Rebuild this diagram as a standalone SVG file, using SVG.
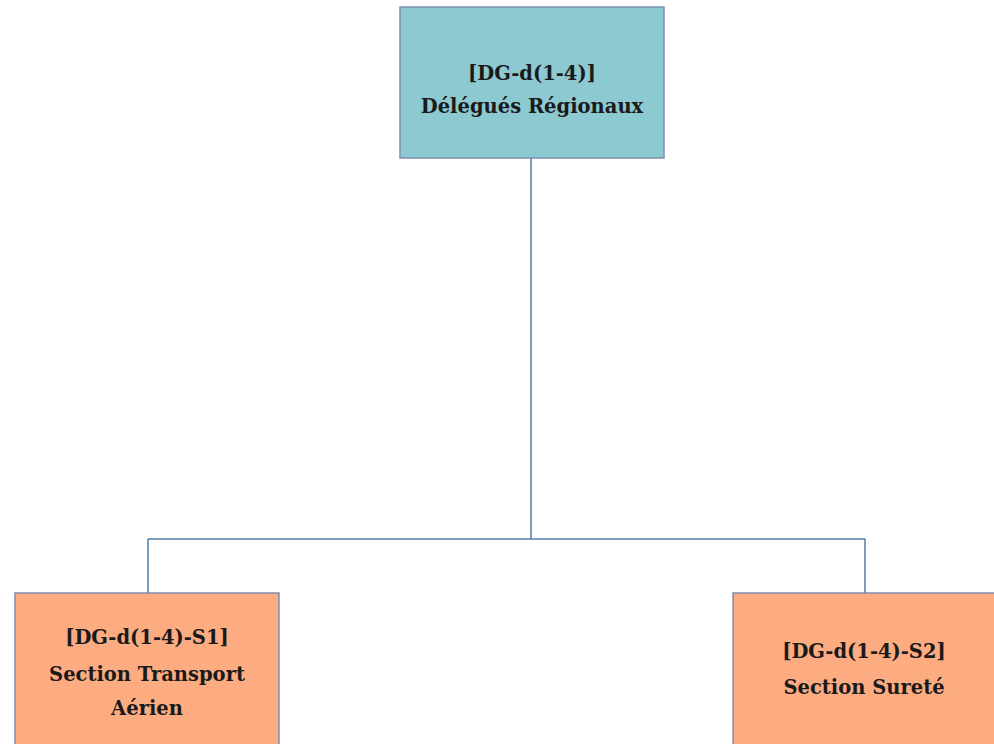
<svg xmlns="http://www.w3.org/2000/svg" width="994" height="744" viewBox="0 0 994 744">
<style>
.box{stroke:#7D8FB0;stroke-width:1.5}
.top{fill:#8DC9D1}
.sub{fill:#FDAB81}
.t{font-family:"DejaVu Serif","Liberation Serif",serif;font-size:19.5px;font-weight:bold;fill:#1a1a1a;text-anchor:middle}
.c{stroke:#4F7EA8;stroke-width:1.5;fill:none}
</style>
<rect width="994" height="744" fill="#ffffff"/>
<g id="connectors">
<path class="c" d="M531 158 V539 M148 539 H865 M148 539 V593 M865 539 V593"/>
</g>
<g id="node-dg">
<rect class="box top" x="400" y="7" width="264" height="151"/>
<text class="t" x="532" y="80">[DG-d(1-4)]</text>
<text class="t" x="532" y="113">Délégués Régionaux</text>
</g>
<g id="node-s1">
<rect class="box sub" x="15" y="593" width="264" height="155"/>
<text class="t" x="147" y="644">[DG-d(1-4)-S1]</text>
<text class="t" x="147" y="681">Section Transport</text>
<text class="t" x="147" y="715">Aérien</text>
</g>
<g id="node-s2">
<rect class="box sub" x="733" y="593" width="275" height="155"/>
<text class="t" x="864" y="658">[DG-d(1-4)-S2]</text>
<text class="t" x="864" y="694">Section Sureté</text>
</g>
</svg>
